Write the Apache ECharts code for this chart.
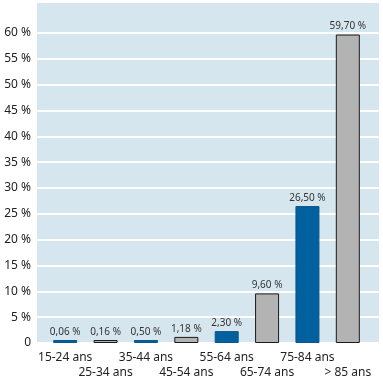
<!DOCTYPE html>
<html><head><meta charset="utf-8">
<script src="https://cdn.jsdelivr.net/npm/echarts@6/dist/echarts.min.js"></script>
<style>html,body{margin:0;padding:0;background:#fff}#c{width:383px;height:382px}</style>
</head><body><div id="c"></div>
<script>
const categories = ['15-24 ans','25-34 ans','35-44 ans','45-54 ans','55-64 ans','65-74 ans','75-84 ans','> 85 ans'];
const values = [0.06, 0.16, 0.50, 1.18, 2.30, 9.60, 26.50, 59.70];
const valueLabels = ['0,06 %','0,16 %','0,50 %','1,18 %','2,30 %','9,60 %','26,50 %','59,70 %'];
const yTickLabels = ['0','5 %','10 %','15 %','20 %','25 %','30 %','35 %','40 %','45 %','50 %','55 %','60 %'];

const BLUE = '#00619e', BLUE_B = '#0a5688', GRAY = '#b3b3b3', GRAY_B = '#1a1a1a';
const FONT = 'Noto Sans';
const YMAX = 65.8;
const lineColors = [];
for (let i = 0; i < 13; i++) lineColors.push('#ffffff');
lineColors.push('rgba(0,0,0,0)', 'rgba(0,0,0,0)');

const chart = echarts.init(document.getElementById('c'), null, {renderer:'canvas'});
chart.setOption({
  animation: false,
  textStyle: {fontFamily: FONT},
  grid: [
    {left: 37, right: 4, top: 3, bottom: 39, show: true, backgroundColor: '#d6e6ef', borderWidth: 0},
    {left: 45, right: 15, top: 3, bottom: 39}
  ],
  xAxis: [
    {gridIndex: 0, type: 'value', min: 0, max: 1, show: false},
    {gridIndex: 1, type: 'category', data: categories,
     axisLine: {show: false}, axisTick: {show: false},
     axisLabel: {interval: 0, margin: 7, fontSize: 12, color: '#222', fontFamily: FONT, lineHeight: 15,
       formatter: (v, i) => (i % 2 === 1 ? '\n' + v : v)}}
  ],
  yAxis: [
    {gridIndex: 0, type: 'value', min: 0, max: YMAX, interval: 5,
     axisLine: {show: false}, axisTick: {show: false},
     splitLine: {show: true, lineStyle: {color: lineColors, width: 2}},
     axisLabel: {margin: 6, fontSize: 12, color: '#222', fontFamily: FONT,
       formatter: (v) => { const i = Math.round(v / 5); return (Math.abs(v - i*5) < 1e-6 && i < yTickLabels.length) ? yTickLabels[i] : ''; }}},
    {gridIndex: 1, type: 'value', min: 0, max: YMAX, show: false}
  ],
  series: [{
    type: 'bar', xAxisIndex: 1, yAxisIndex: 1, barWidth: 24, barMinHeight: 3,
    data: values.map((v, i) => ({
      value: v,
      itemStyle: {color: i % 2 === 0 ? BLUE : GRAY, borderColor: i % 2 === 0 ? BLUE_B : GRAY_B, borderWidth: 1}
    })),
    label: {show: true, position: 'top', distance: 3, fontSize: 10, color: '#333', fontFamily: FONT,
      formatter: (p) => valueLabels[p.dataIndex]}
  }]
});
</script></body></html>
